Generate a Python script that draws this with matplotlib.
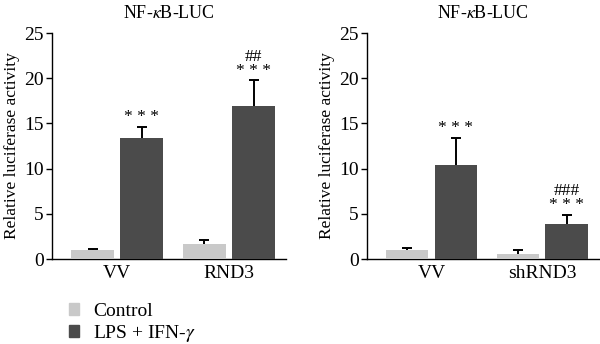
import numpy as np
import matplotlib
matplotlib.use("Agg")
from matplotlib import pyplot as plt
from matplotlib.patches import Patch

plt.rcParams['font.family'] = ['Liberation Serif', 'DejaVu Serif']
plt.rcParams['mathtext.fontset'] = 'stix'

# values read per panel: (control, LPS + IFN-gamma), mean and upper error
groups_left = ['VV', 'RND3']
ctrl_left = [1.0, 1.7]
ctrl_left_err = [0.15, 0.45]
lps_left = [13.4, 16.9]
lps_left_err = [1.2, 2.85]
marks_left = ['* * *', '##\n* * *']

groups_right = ['VV', 'shRND3']
ctrl_right = [1.0, 0.6]
ctrl_right_err = [0.2, 0.4]
lps_right = [10.4, 3.9]
lps_right_err = [3.0, 1.0]
marks_right = ['* * *', '###\n* * *']

series_labels = ['Control', 'LPS + IFN-$\\mathit{\\gamma}$']
light = '#c9c9c9'
dark = '#4b4b4b'

fig = plt.figure(figsize=(6, 3.44), dpi=100)
ax1 = fig.add_axes([0.087, 0.247, 0.39, 0.657])
ax2 = fig.add_axes([0.612, 0.247, 0.386, 0.657])


def upper_err(ax, x, y, err):
    # one-sided error bar: hide the lower cap so only the top one shows
    _, caps, _ = ax.errorbar(x, y, yerr=[np.zeros(len(x)), err], fmt='none',
                             ecolor='black', elinewidth=1.4, capsize=3.5,
                             capthick=1.4, zorder=2)
    caps[0].set_visible(False)


def draw_panel(ax, groups, ctrl, ctrl_err, lps, lps_err, marks):
    x = np.arange(len(groups))
    w = 0.385
    off = 0.22
    ax.bar(x - off, ctrl, w, color=light, zorder=3)
    ax.bar(x + off, lps, w, color=dark, zorder=3)
    upper_err(ax, x - off, ctrl, ctrl_err)
    upper_err(ax, x + off, lps, lps_err)
    for xi, v, e, m in zip(x, lps, lps_err, marks):
        ax.text(xi + off, v + e + 0.2, m, ha='center', va='bottom',
                fontsize=12.5, linespacing=0.8)
    ax.set_xlim(-0.58, 1.51)
    ax.set_ylim(0, 25)
    ax.set_yticks([0, 5, 10, 15, 20, 25])
    ax.set_xticks(x)
    ax.set_xticklabels(groups)
    ax.tick_params(axis='x', length=0, labelsize=14, pad=4)
    ax.tick_params(axis='y', length=4, width=1, labelsize=14, pad=2,
                   direction='out')
    ax.spines['top'].set_visible(False)
    ax.spines['right'].set_visible(False)
    ax.spines['left'].set_linewidth(1)
    ax.spines['bottom'].set_linewidth(1)
    ax.set_ylabel('Relative luciferase activity', fontsize=12.5, labelpad=3)
    ax.set_title('NF-$\\mathit{\\kappa}$B-LUC', fontsize=13, pad=11)


draw_panel(ax1, groups_left, ctrl_left, ctrl_left_err, lps_left, lps_left_err, marks_left)
draw_panel(ax2, groups_right, ctrl_right, ctrl_right_err, lps_right, lps_right_err, marks_right)

handles = [Patch(color=light), Patch(color=dark)]
fig.legend(handles, series_labels, loc='lower left', bbox_to_anchor=(0.085, -0.05),
           frameon=False, fontsize=14, handlelength=0.55, handleheight=0.55,
           handletextpad=0.7, labelspacing=0.15)

fig.savefig('out.png', dpi=100)
